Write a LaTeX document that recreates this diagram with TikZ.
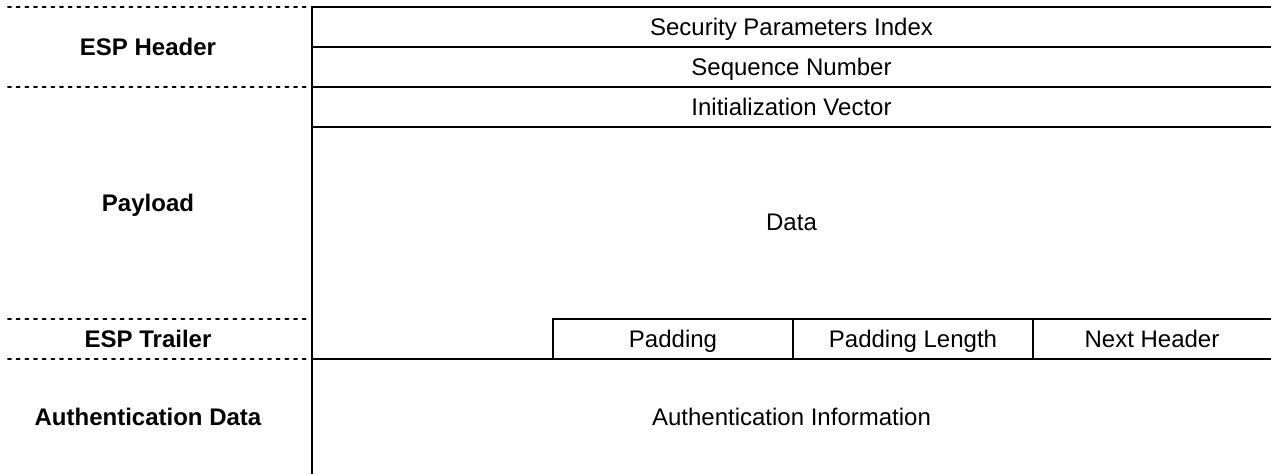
\documentclass[tikz,border=0pt]{standalone}
\usepackage{fontspec}
\setmainfont{Liberation Sans}
\usepackage{tkz-euclide}
\tikzset{>=stealth}
\tikzset{field/.style={anchor=base, font=\fontsize{18}{21}\selectfont},
  part/.style={anchor=base, font=\fontsize{18}{21}\selectfont\bfseries}}

\begin{document}
\begin{tikzpicture}[x=0.75pt, y=-0.75pt]
    \useasboundingbox (0,0) rectangle (1271,474);
    \tkzDefPoints{312/7/A, 1271/7/B, 312/474/C}
    \tkzDefPoints{312/47/D, 1271/47/E, 312/87/F, 1271/87/G, 312/127/H, 1271/127/I}
    \tkzDefPoints{553/319/J, 1271/319/K, 312/359/L, 1271/359/M}
    \tkzDefPoints{553/359/N, 793/319/O, 793/359/P, 1033/319/Q, 1033/359/R}
    \tkzDrawPolySeg[line width=1.5pt, black](B,A,C)
    \tkzDrawSegments[line width=1.5pt, black](D,E F,G H,I J,K L,M J,N O,P Q,R)
    % dashed section marks on the left
    \tkzDefPoints{8/7/a, 310/7/b, 8/87/c, 310/87/d, 8/319/e, 310/319/f, 8/359/g, 310/359/h}
    \tkzDrawSegments[line width=1.5pt, black, dash pattern=on 2.25pt off 4.25pt](a,b c,d e,f g,h)
   %\tkzLabelPoints(A,B,C,D,E,F)
    \node[part] (esph) at (148,55.5) {ESP Header};
    \node[part] (payload) at (148,211.5) {Payload};
    \node[part] (espt) at (148,347.5) {ESP Trailer};
    \node[part] (authd) at (148,425.5) {Authentication Data};
    \node[field] (spi) at (791.5,35.5) {Security Parameters Index};
    \node[field] (seq) at (791.5,75.5) {Sequence Number};
    \node[field] (iv) at (791.5,115.5) {Initialization Vector};
    \node[field] (data) at (791.5,230.5) {Data};
    \node[field] (pad) at (673,347.5) {Padding};
    \node[field] (padlen) at (913,347.5) {Padding Length};
    \node[field] (next) at (1152,347.5) {Next Header};
    \node[field] (authi) at (791.5,425.5) {Authentication Information};
\end{tikzpicture}
\end{document}
